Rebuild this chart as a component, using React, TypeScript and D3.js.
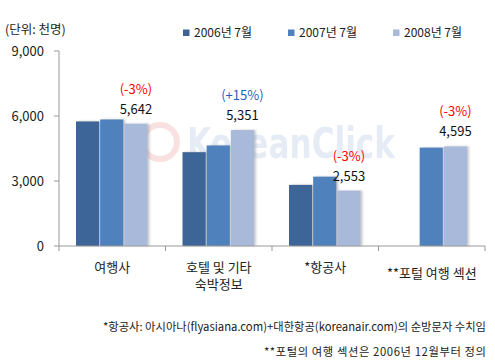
import React from "react";
import * as d3 from "d3";

const categories = ["여행사", "호텔 및 기타|숙박정보", "*항공사", "**포털 여행 섹션"];
const seriesNames = ["2006년 7월", "2007년 7월", "2008년 7월"];
const v2006 = [5750, 4330, 2820, null];
const v2007 = [5840, 4640, 3200, 4540];
const v2008 = [5642, 5351, 2553, 4595];
const changeLabels = ["(-3%)", "(+15%)", "(-3%)", "(-3%)"];
const yTicks = [0, 3000, 6000, 9000];
const footnotes = [
  "*항공사: 아시아나(flyasiana.com)+대한항공(koreanair.com)의 순방문자 수치임",
  "**포털의 여행 섹션은 2006년 12월부터 정의",
];

const colors = ["#3e6598", "#4f81bd", "#a9b9d9"];
const font = "'Noto Sans CJK KR', 'Noto Sans', sans-serif";

export default function App() {
  const width = 495, height = 362;
  const x0 = 59, x1 = 485, yTop = 51, yBase = 246;

  const y = d3.scaleLinear().domain([0, 9000]).range([yBase, yTop]);
  const xCat = d3.scaleBand<number>().domain(d3.range(categories.length)).range([x0, x1]);
  const xSer = d3.scaleBand<number>().domain([0, 1, 2]).range([17, 88.5]).paddingInner(0.04);
  const series = [v2006, v2007, v2008];
  const footWidths = [383, 222];

  return (
    <svg
      width={width}
      height={height}
      style={{ position: "absolute", left: 0, top: 0, display: "block", fontFamily: font }}
    >
      <defs>
        <filter id="sh" x="-20%" y="-5%" width="150%" height="110%">
          <feDropShadow dx="2" dy="0" stdDeviation="1" floodColor="#888" floodOpacity="0.45" />
        </filter>
      </defs>
      <rect width={width} height={height} fill="#fff" />

      {/* watermark */}
      <g opacity={0.14}>
        <circle cx={160} cy={142} r={17} fill="none" stroke="#d33" strokeWidth={6} />
        <text x={187} y={158} fontSize={42} fontWeight="bold" fill="#4f81bd" textLength={208}
          lengthAdjust="spacingAndGlyphs" fontFamily="'DejaVu Sans', sans-serif">KoreanClick</text>
      </g>

      <text x={5} y={34} fontSize={12.5} fill="#222">(단위: 천명)</text>

      {/* legend */}
      {seriesNames.map((s, i) => {
        const lx = [183, 288, 393][i];
        return (
          <g key={s}>
            <rect x={lx} y={29.5} width={6.5} height={6.5} fill={colors[i]} />
            <text x={lx + 11} y={37} fontSize={12} fill="#222">{s}</text>
          </g>
        );
      })}

      {/* y axis */}
      <line x1={x0} x2={x0} y1={yTop} y2={yBase} stroke="#999" />
      {yTicks.map((t) => (
        <g key={t}>
          <line x1={x0 - 5} x2={x0} y1={y(t)} y2={y(t)} stroke="#999" />
          <text x={x0 - 15} y={y(t)} dy="0.35em" textAnchor="end" fontSize={13} fill="#222">
            {d3.format(",")(t)}
          </text>
        </g>
      ))}

      {/* bars */}
      {series.map((vals, si) =>
        vals.map((v, ci) =>
          v == null ? null : (
            <rect
              key={`${si}-${ci}`}
              x={(xCat(ci) as number) + (xSer(si) as number)}
              y={y(v)}
              width={xSer.bandwidth()}
              height={yBase - y(v)}
              fill={colors[si]}
              filter="url(#sh)"
            />
          )
        )
      )}

      {/* x axis */}
      <line x1={x0} x2={x1} y1={yBase} y2={yBase} stroke="#999" />
      {d3.range(categories.length + 1).map((i) => {
        const tx = x0 + i * xCat.step();
        return <line key={i} x1={tx} x2={tx} y1={yBase} y2={yBase + 5} stroke="#999" />;
      })}

      {/* value labels */}
      {v2008.map((v, ci) => {
        const cx = (xCat(ci) as number) + (xSer(2) as number) + xSer.bandwidth() / 2;
        return (
          <g key={ci} textAnchor="middle" fontSize={13}>
            <text x={cx} y={y(v) - 30} fill={changeLabels[ci].includes("+") ? "#1f5fbf" : "#ff0000"}>
              {changeLabels[ci]}
            </text>
            <text x={cx} y={y(v) - 10} fill="#111">{d3.format(",")(v)}</text>
          </g>
        );
      })}

      {/* category labels */}
      {categories.map((c, ci) => {
        const lines = c.split("|");
        const cx = (xCat(ci) as number) + xCat.bandwidth() / 2;
        return (
          <text key={c} x={cx} y={ci === 3 ? 278 : 272} textAnchor="middle" fontSize={13} fill="#222">
            {lines.map((l, li) => (
              <tspan key={li} x={cx} dy={li === 0 ? 0 : 17}>{l}</tspan>
            ))}
          </text>
        );
      })}

      {/* footnotes */}
      {footnotes.map((f, i) => (
        <text key={i} x={486 - footWidths[i]} y={331 + i * 25} fontSize={11.3} fill="#222"
          textLength={footWidths[i]} lengthAdjust="spacing">{f}</text>
      ))}
    </svg>
  );
}
